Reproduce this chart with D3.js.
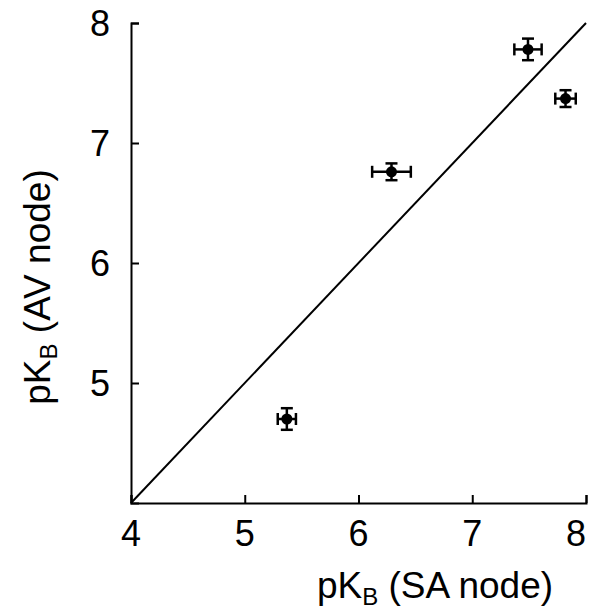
<!DOCTYPE html>
<html>
<head>
<meta charset="utf-8">
<script src="https://cdn.jsdelivr.net/npm/d3@7"></script>
<style>
	body { margin: 0; background: #fff; }
	text { font-family: "Liberation Sans", Arial, sans-serif; fill: #000; }
</style>
</head>
<body>
<div id="chart"></div>
<script>
// pKB values, SA node (x) vs AV node (y)
const saNode = [5.37, 6.29, 7.49, 7.82];
const saErr = [0.08, 0.17, 0.12, 0.09];
const avNode = [4.70, 6.76, 7.78, 7.37];
const avErr = [0.09, 0.07, 0.09, 0.07];
const xTicks = [4, 5, 6, 7, 8];
const yTicks = [5, 6, 7, 8];
const identity = [4, 8];

const W = 589, H = 613;
const svg = d3.select("#chart").append("svg")
	.attr("width", W)
	.attr("height", H);

const x = d3.scaleLinear().domain([4, 8]).range([131, 586]);
const y = d3.scaleLinear().domain([4, 8]).range([503, 23]);

const points = saNode.map((v, i) => ({x: v, y: avNode[i], ex: saErr[i], ey: avErr[i]}));

// axes, ticks pointing inward
const xAxis = svg.append("g")
	.attr("transform", `translate(0,${y(4)})`)
	.call(d3.axisTop(x).tickValues(xTicks).tickSize(8).tickFormat(""));
const yAxis = svg.append("g")
	.attr("transform", `translate(${x(4)},0)`)
	.call(d3.axisRight(y).tickValues(yTicks).tickSize(8).tickFormat(""));
[xAxis, yAxis].forEach(a => {
	a.select(".domain").attr("stroke", "#000").attr("stroke-width", 2);
	a.selectAll(".tick line").attr("stroke", "#000").attr("stroke-width", 2);
});

// tick labels (last one kept inside the page)
svg.append("g").selectAll("text")
	.data(xTicks)
	.join("text")
	.attr("x", d => Math.min(x(d), W - 13))
	.attr("y", 546)
	.attr("text-anchor", "middle")
	.attr("font-size", 36)
	.text(d => d);
svg.append("g").selectAll("text")
	.data(yTicks)
	.join("text")
	.attr("x", 110)
	.attr("y", d => y(d) + 13)
	.attr("text-anchor", "end")
	.attr("font-size", 36)
	.text(d => d);

// axis titles
const xt = svg.append("text")
	.attr("x", 435)
	.attr("y", 598)
	.attr("text-anchor", "middle")
	.attr("font-size", 37);
xt.append("tspan").text("pK");
xt.append("tspan").attr("font-size", 24).attr("dy", 7).text("B");
xt.append("tspan").attr("dy", -7).text(" (SA node)");

const yt = svg.append("text")
	.attr("transform", "translate(50,287) rotate(-90)")
	.attr("text-anchor", "middle")
	.attr("font-size", 37);
yt.append("tspan").text("pK");
yt.append("tspan").attr("font-size", 24).attr("dy", 7).text("B");
yt.append("tspan").attr("dy", -7).text(" (AV node)");

// line of identity
svg.append("path")
	.datum(identity)
	.attr("d", d3.line().x(d => x(d)).y(d => y(d)))
	.attr("stroke", "#000")
	.attr("stroke-width", 2)
	.attr("fill", "none");

// error bars
const cap = 6;
const g = svg.append("g").attr("stroke", "#000").attr("stroke-width", 2.5);
points.forEach(p => {
	g.append("line").attr("x1", x(p.x - p.ex)).attr("x2", x(p.x + p.ex)).attr("y1", y(p.y)).attr("y2", y(p.y));
	g.append("line").attr("x1", x(p.x)).attr("x2", x(p.x)).attr("y1", y(p.y - p.ey)).attr("y2", y(p.y + p.ey));
	g.append("line").attr("x1", x(p.x - p.ex)).attr("x2", x(p.x - p.ex)).attr("y1", y(p.y) - cap).attr("y2", y(p.y) + cap);
	g.append("line").attr("x1", x(p.x + p.ex)).attr("x2", x(p.x + p.ex)).attr("y1", y(p.y) - cap).attr("y2", y(p.y) + cap);
	g.append("line").attr("x1", x(p.x) - cap).attr("x2", x(p.x) + cap).attr("y1", y(p.y - p.ey)).attr("y2", y(p.y - p.ey));
	g.append("line").attr("x1", x(p.x) - cap).attr("x2", x(p.x) + cap).attr("y1", y(p.y + p.ey)).attr("y2", y(p.y + p.ey));
});

svg.append("g").selectAll("circle")
	.data(points)
	.join("circle")
	.attr("cx", d => x(d.x))
	.attr("cy", d => y(d.y))
	.attr("r", 5.5)
	.attr("fill", "#000");
</script>
</body>
</html>
